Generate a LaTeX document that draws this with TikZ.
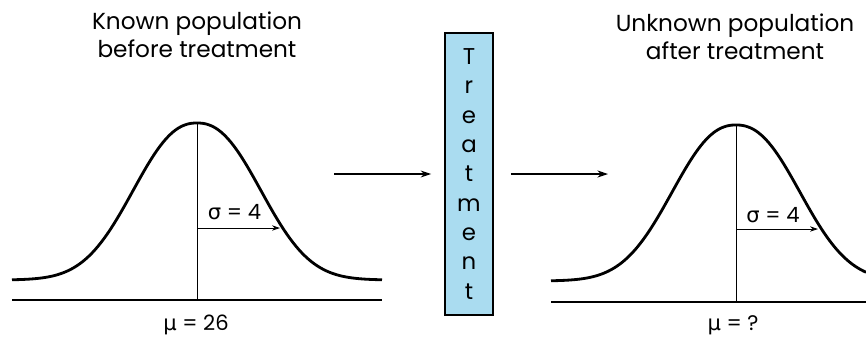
\documentclass[tikz,border=0pt]{standalone}
\usepackage{fontspec}
\setmainfont{Poppins}
\newfontfamily\greekfont{DejaVu Sans}
\usetikzlibrary{positioning,arrows.meta}
\definecolor{boxblue}{RGB}{170,220,240}

\begin{document}
\begin{tikzpicture}[x=0.02cm, y=-0.02cm, every node/.style={font=\fontsize{12}{16}\selectfont},
    curve/.style={line width=1.6pt},
    axis/.style={line width=0.8pt},
    title/.style={align=center, font=\fontsize{13.2}{16}\selectfont},
    flow/.style={line width=0.6pt, -{Stealth[length=6pt,width=4pt]}},
    sigarrow/.style={line width=0.5pt, -{Stealth[length=4.5pt,width=3pt]}}]
    \useasboundingbox (0,0) rectangle (866,336);
    % before treatment
    \node[title] (titleA) at (197,35) {Known population\\before treatment};
    \draw[curve] plot[domain=-185:185, samples=121] ({197+\x},{280-157*exp(-((abs(\x)+0.01)/82.1)^2.3)});
    \draw[axis] (12,300) -- (382,300);
    \coordinate (peakA) at (197,123);
    \coordinate (footA) at (197,300);
    \draw (peakA) -- (footA);
    \coordinate (sigA) at (197,228);
    \coordinate (sigAend) at (280,228);
    \draw[sigarrow] (sigA) -- (sigAend);
    \node[anchor=base] (sigmaA) at (234.5,219) {{\greekfont σ} = 4};
    \node[anchor=base] (muA) at (196,330) {{\greekfont μ} = 26};
    % treatment box
    \node[draw, line width=1pt, fill=boxblue, minimum width=0.96cm, minimum height=5.64cm,
        align=center, font=\fontsize{13}{16.7}\selectfont] (treat) at (469,174)
        {T\\r\\e\\a\\t\\m\\e\\n\\t};
    \coordinate (inA) at (334,174);
    \coordinate (outB) at (608,174);
    \draw[flow, shorten >=0.26cm] (inA) -- (treat.west);
    \draw[flow, shorten <=0.34cm] (treat.east) -- (outB);
    % after treatment
    \node[title] (titleB) at (735,37) {Unknown population\\after treatment};
    \draw[curve] plot[domain=-185:130, samples=121] ({736+\x},{281-156*exp(-((abs(\x)+0.01)/82.1)^2.3)});
    \draw[axis] (551,302) -- (866,302);
    \coordinate (peakB) at (736,125);
    \coordinate (footB) at (736,302);
    \draw (peakB) -- (footB);
    \coordinate (sigB) at (736,229);
    \coordinate (sigBend) at (818,229);
    \draw[sigarrow] (sigB) -- (sigBend);
    \node[anchor=base] (sigmaB) at (773,222) {{\greekfont σ} = 4};
    \node[anchor=base] (muB) at (733,330) {{\greekfont μ} = ?};
\end{tikzpicture}
\end{document}
